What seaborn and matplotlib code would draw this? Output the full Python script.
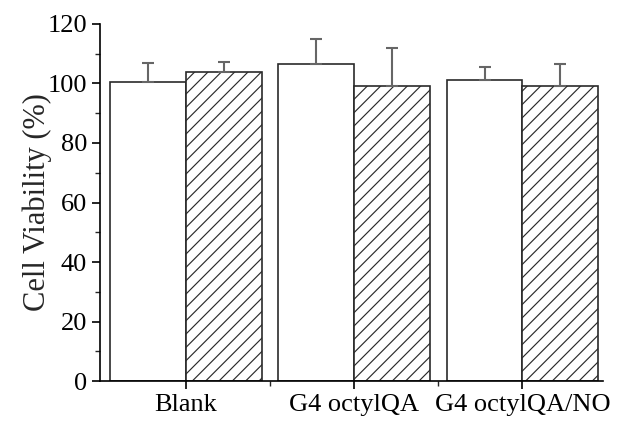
import matplotlib
matplotlib.use("Agg")
import matplotlib.pyplot as plt
import seaborn as sns
import pandas as pd
import numpy as np
from matplotlib.ticker import MultipleLocator, FixedLocator
from matplotlib.container import BarContainer

categories = ["Blank", "G4 octylQA", "G4 octylQA/NO"]
series_names = ["Control", "Treated"]
values_a = [100.5, 106.4, 101.1]
errors_a = [6.5, 8.4, 4.5]
values_b = [104.0, 99.2, 99.2]
errors_b = [3.1, 12.8, 7.5]

DPI = 120
S = 100.0 / DPI  # scale point sizes so pixel sizes match a 100-dpi design

sns.set_style("ticks")
plt.rcParams["font.family"] = ["Liberation Serif", "DejaVu Serif"]
plt.rcParams["hatch.linewidth"] = 0.7
plt.rcParams["hatch.color"] = "black"

df = pd.DataFrame({
    "category": categories * 2,
    "series": [series_names[0]] * 3 + [series_names[1]] * 3,
    "value": values_a + values_b,
})

fig = plt.figure(figsize=(618 / DPI, 421 / DPI), dpi=DPI)
ax = fig.add_axes([0.162, 0.095, 0.814, 0.848])

sns.barplot(data=df, x="category", y="value", hue="series", order=categories,
            hue_order=series_names, palette=["white", "white"], width=0.9,
            edgecolor="#2a2a2a", linewidth=1.2 * S, errorbar=None, legend=False, ax=ax)

bar_conts = [c for c in ax.containers if isinstance(c, BarContainer)]
errs = [errors_a, errors_b]
for i, cont in enumerate(bar_conts):
    if i == 1:
        for bar in cont:
            bar.set_hatch("///")
    xs = [b.get_x() + b.get_width() / 2 for b in cont]
    hs = [b.get_height() for b in cont]
    ax.errorbar(xs, hs, yerr=[np.zeros(len(hs)), errs[i]], fmt="none",
                ecolor="#666666", elinewidth=1.5 * S, capsize=4 * S,
                capthick=1.5 * S, zorder=1)

ax.set_ylim(0, 120)
ax.set_xlim(-0.51, 2.48)
ax.yaxis.set_major_locator(MultipleLocator(20))
ax.yaxis.set_minor_locator(MultipleLocator(10))
ax.xaxis.set_minor_locator(FixedLocator([0.5, 1.5]))
ax.set_xlabel("")
ax.set_ylabel("Cell Viability (%)", fontsize=22 * S, labelpad=-3)
ax.tick_params(axis="both", which="major", labelsize=19 * S, length=6 * S,
               width=1.2 * S, pad=3.5 * S, direction="out", colors="black")
ax.tick_params(axis="both", which="minor", length=3.5 * S, width=1.0 * S, direction="out")
for s in ["top", "right"]:
    ax.spines[s].set_visible(False)
for s in ["left", "bottom"]:
    ax.spines[s].set_linewidth(1.2 * S)
    ax.spines[s].set_color("black")

fig.savefig("out.png", dpi=DPI)
